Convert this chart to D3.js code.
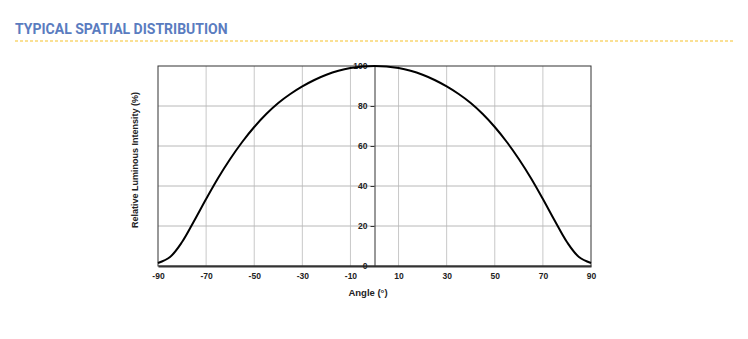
<!DOCTYPE html>
<html>
<head>
<meta charset="utf-8">
<script src="https://cdn.jsdelivr.net/npm/d3@7"></script>
<style>
    body { margin: 0; background: #fff; }
    .tick text { font-family: "Liberation Sans", Arial, sans-serif; font-size: 8.5px; font-weight: bold; fill: #222; }
</style>
</head>
<body>
<div id="chart"></div>
<script>
// Typical spatial distribution chart

var angles = [-90, -85, -80, -75, -70, -65, -60, -55, -50, -45, -40, -35, -30, -25, -20, -15, -10, -5,
    0, 5, 10, 15, 20, 25, 30, 35, 40, 45, 50, 55, 60, 65, 70, 75, 80, 85, 90];
var intensity = [1.5, 4.5, 12, 22.5, 33.5, 44, 53.5, 62, 69.5, 76, 81.5, 86, 89.8, 93, 95.6, 97.6, 99, 99.8,
    100, 99.8, 99, 97.6, 95.6, 93, 89.8, 86, 81.5, 76, 69.5, 62, 53.5, 44, 33.5, 22.5, 12, 4.5, 1.5];
var xTicks = [-90, -70, -50, -30, -10, 10, 30, 50, 70, 90];
var yTicks = [0, 20, 40, 60, 80, 100];

var W = 748, H = 339;
var margin = {top: 66, right: 157, bottom: 73, left: 158};
var width = W - margin.left - margin.right,
    height = H - margin.top - margin.bottom;

var svg = d3.select("#chart").append("svg")
    .attr("width", W)
    .attr("height", H);

// header
svg.append("text")
    .attr("x", 15)
    .attr("y", 34)
    .text("TYPICAL SPATIAL DISTRIBUTION")
    .style("font-family", "Roboto, sans-serif")
    .style("font-weight", "bold")
    .style("font-size", "14px")
    .style("fill", "#5a7cc0");

svg.append("line")
    .attr("x1", 15).attr("x2", 735)
    .attr("y1", 41).attr("y2", 41)
    .attr("stroke", "#f5c22a")
    .attr("stroke-width", 1.2)
    .attr("stroke-dasharray", "3,2");

var g = svg.append("g")
    .attr("transform", "translate(" + margin.left + "," + margin.top + ")");

var x = d3.scaleLinear().domain([-90, 90]).range([0, width]);
var y = d3.scaleLinear().domain([0, 100]).range([height, 0]);

// grid
g.selectAll("line.vgrid")
    .data(xTicks.slice(1, -1))
    .enter().append("line")
    .attr("class", "vgrid")
    .attr("x1", function(d) { return x(d); })
    .attr("x2", function(d) { return x(d); })
    .attr("y1", 0).attr("y2", height)
    .attr("stroke", "#c8c8c8");

g.selectAll("line.hgrid")
    .data(yTicks.slice(1, -1))
    .enter().append("line")
    .attr("class", "hgrid")
    .attr("x1", 0).attr("x2", width)
    .attr("y1", function(d) { return y(d); })
    .attr("y2", function(d) { return y(d); })
    .attr("stroke", "#b8b8b8");

// frame
g.append("rect")
    .attr("width", width)
    .attr("height", height)
    .attr("fill", "none")
    .attr("stroke", "#333")
    .attr("stroke-width", 1);

// x axis
var xAxis = g.append("g")
    .attr("transform", "translate(0," + height + ")")
    .call(d3.axisBottom(x).tickValues(xTicks).tickSize(0).tickPadding(7)
        .tickFormat(function(d) { return String(d); }));
xAxis.select(".domain").attr("stroke", "#333").attr("stroke-width", 2);

// y axis at x = 0
var yAxis = g.append("g")
    .attr("transform", "translate(" + x(0) + ",0)")
    .call(d3.axisLeft(y).tickValues(yTicks).tickSize(4).tickPadding(3)
        .tickFormat(function(d) { return String(d); }));
yAxis.select(".domain").attr("stroke", "#333");
yAxis.selectAll(".tick line").attr("stroke", "#333");

// curve
var line = d3.line()
    .x(function(d, i) { return x(angles[i]); })
    .y(function(d) { return y(d); })
    .curve(d3.curveCatmullRom);

g.append("path")
    .datum(intensity)
    .attr("d", line)
    .attr("fill", "none")
    .attr("stroke", "#000")
    .attr("stroke-width", 2);

// axis titles
svg.append("text")
    .attr("x", 368)
    .attr("y", 296)
    .attr("text-anchor", "middle")
    .text("Angle (°)")
    .style("font-family", "Liberation Sans, Arial, sans-serif")
    .style("font-weight", "bold")
    .style("font-size", "9.5px")
    .style("fill", "#222");

svg.append("text")
    .attr("transform", "translate(138," + (margin.top + height / 2 - 6) + ") rotate(-90)")
    .attr("text-anchor", "middle")
    .text("Relative Luminous Intensity (%)")
    .style("font-family", "Liberation Sans, Arial, sans-serif")
    .style("font-weight", "bold")
    .style("font-size", "9px")
    .style("fill", "#222");
</script>
</body>
</html>
